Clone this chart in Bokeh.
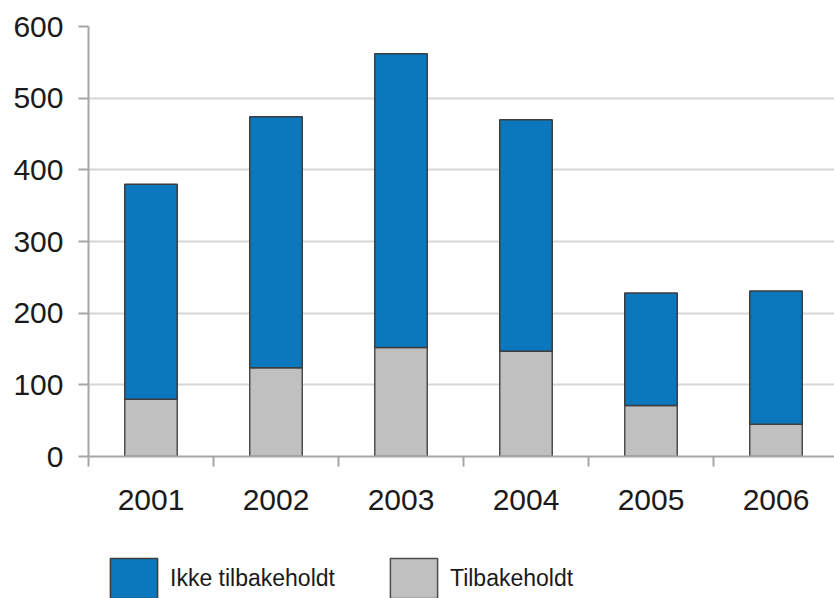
from bokeh.plotting import figure
from bokeh.models import Range1d, FixedTicker, Legend, LegendItem
from bokeh.layouts import column
from bokeh.embed import file_html
from bokeh.resources import INLINE

years = ["2001", "2002", "2003", "2004", "2005", "2006"]
tilbakeholdt = [80, 124, 152, 147, 71, 45]
ikke_tilbakeholdt = [300, 350, 410, 323, 157, 186]
y_ticks = [0, 100, 200, 300, 400, 500, 600]
series_labels = ["Ikke tilbakeholdt", "Tilbakeholdt"]

BLUE = "#0b77bd"
GREY = "#c0c0c0"
FONT = "Liberation Sans"
TXT = "#1a1a1a"

n = len(years)
x = [i + 0.5 for i in range(n)]
bounds = list(range(n + 1))
top_grey = list(tilbakeholdt)
top_blue = [a + b for a, b in zip(tilbakeholdt, ikke_tilbakeholdt)]

p = figure(width=834, height=546, output_backend="svg", toolbar_location=None,
           x_range=Range1d(0, 5.968), y_range=Range1d(0, 600),
           min_border_left=88, min_border_right=0, min_border_top=26, min_border_bottom=90)
p.outline_line_color = None
p.background_fill_color = "white"
p.border_fill_color = "white"

p.vbar(x=x, bottom=0, top=top_grey, width=0.42, fill_color=GREY,
       line_color="#4d4d4d", line_width=1.5)
p.vbar(x=x, bottom=top_grey, top=top_blue, width=0.42, fill_color=BLUE,
       line_color="#3d3d3d", line_width=1.5)

# y axis
ya = p.yaxis[0]
ya.ticker = FixedTicker(ticks=y_ticks)
ya.axis_line_color = "#a6a6a6"
ya.axis_line_width = 2
ya.major_tick_line_color = "#a6a6a6"
ya.major_tick_line_width = 2
ya.major_tick_out = 10
ya.major_tick_in = 0
ya.minor_tick_line_color = None
ya.major_label_text_font = FONT
ya.major_label_text_font_size = "30px"
ya.major_label_text_color = TXT
ya.major_label_standoff = 15

# x axis
xa = p.xaxis[0]
xa.ticker = FixedTicker(ticks=x, minor_ticks=bounds)
xa.major_label_overrides = {xv: yr for xv, yr in zip(x, years)}
xa.axis_line_color = "#a6a6a6"
xa.axis_line_width = 2
xa.major_tick_line_color = None
xa.major_tick_out = 10
xa.minor_tick_line_color = "#a6a6a6"
xa.minor_tick_line_width = 2
xa.minor_tick_out = 10
xa.minor_tick_in = 0
xa.major_label_text_font = FONT
xa.major_label_text_font_size = "30px"
xa.major_label_text_color = TXT
xa.major_label_standoff = 23

p.xgrid.grid_line_color = None
p.ygrid.ticker = FixedTicker(ticks=y_ticks)
p.ygrid.grid_line_color = "#d6d6d6"
p.ygrid.grid_line_width = 2

# legend strip (its frame is aligned with the chart's frame by the column layout)
lg = figure(width=834, height=52, output_backend="svg", toolbar_location=None,
            x_range=Range1d(0, 1), y_range=Range1d(0, 1),
            x_axis_type=None, y_axis_type=None,
            min_border_left=0, min_border_right=0, min_border_top=0, min_border_bottom=0)
lg.outline_line_color = None
lg.xgrid.visible = False
lg.ygrid.visible = False
# hidden proxy renderers, used only for the legend swatches
lb = lg.vbar(x=[0.5], bottom=[0], top=[1], width=0.1, fill_color=BLUE,
             line_color="#3d3d3d", line_width=1.5, visible=False)
lgr = lg.vbar(x=[0.5], bottom=[0], top=[1], width=0.1, fill_color=GREY,
              line_color="#4d4d4d", line_width=1.5, visible=False)

legend = Legend(items=[LegendItem(label=series_labels[0], renderers=[lb]),
                       LegendItem(label=series_labels[1], renderers=[lgr])],
                location=(16, -5), orientation="horizontal",
                glyph_width=59, glyph_height=50, label_standoff=7, spacing=49,
                padding=0, margin=0, border_line_color=None, background_fill_alpha=0,
                inactive_fill_alpha=0,
                label_text_font=FONT, label_text_font_size="23px", label_text_color=TXT)
lg.add_layout(legend, "center")

layout = column(p, lg, spacing=0)
open("out.html", "w").write(file_html(layout, INLINE))
